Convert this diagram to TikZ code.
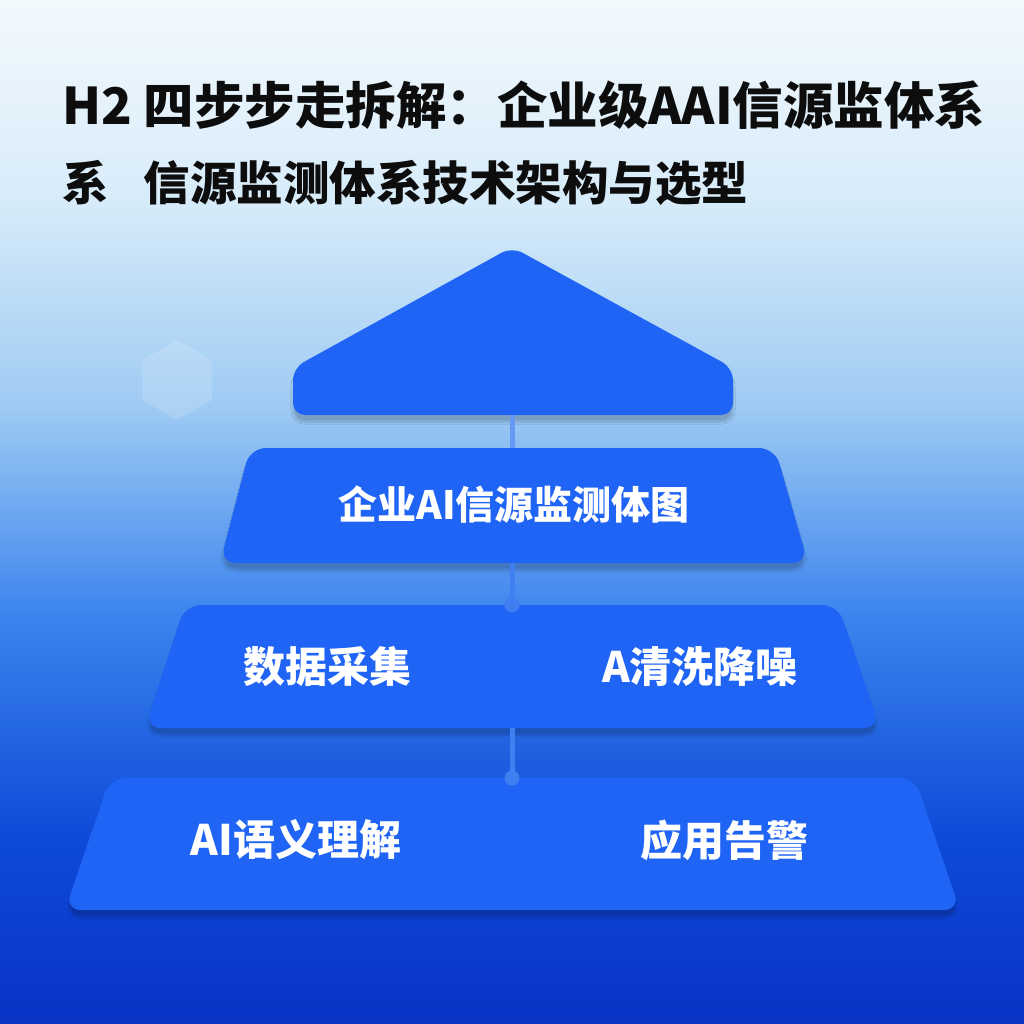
\documentclass[tikz,border=0pt]{standalone}
\usepackage{fontspec}
\setmainfont{Noto Sans CJK SC}
\usepackage{tikz}
\usetikzlibrary{shapes.geometric, shadows.blur}
\definecolor{blockblue}{HTML}{1F64F5}
\definecolor{stemblue}{HTML}{3F7FF0}
\definecolor{bgA}{HTML}{0A33C4}
\definecolor{bgB}{HTML}{0D4AD8}
\definecolor{bgC}{HTML}{3C84EE}
\definecolor{bgD}{HTML}{9DCAF3}
\definecolor{bgE}{HTML}{D6EBF9}
\definecolor{bgF}{HTML}{F3F9FD}
\pgfdeclareverticalshading{backdrop}{100bp}{color(0bp)=(bgA); color(25bp)=(bgA); color(34bp)=(bgB); color(45bp)=(bgC); color(55bp)=(bgD); color(65bp)=(bgE); color(75bp)=(bgF); color(100bp)=(bgF)}
\tikzstyle{layer} = [fill=blockblue, rounded corners=16pt, blur shadow={shadow xshift=0pt, shadow yshift=-7pt, shadow blur steps=12, shadow opacity=20}]
\tikzstyle{layertext} = [text=white, font=\bfseries\fontsize{42}{48}\selectfont]
\tikzstyle{titletext} = [anchor=west, inner sep=0pt, text=black!95]
\tikzstyle{stem} = [draw=stemblue, line width=5pt]
\tikzstyle{joint} = [circle, fill=stemblue, minimum size=15pt, inner sep=0pt]

\begin{document}
\begin{tikzpicture}[x=1pt, y=-1pt]

    % Backdrop
    \useasboundingbox (0,0) rectangle (1024,1024);
    \shade[shading=backdrop] (0,0) rectangle (1024,1024);
    \node (hexglow) [regular polygon, regular polygon sides=6, shape border rotate=30, minimum size=80pt, fill=white, opacity=0.15] at (177,380) {};

    % Title
    \node (title1) [titletext, font=\bfseries\fontsize{50.5}{56}\selectfont] at (62,105) {H2 四步步走拆解：企业级AAI信源监体系};
    \node (title2) [titletext, font=\bfseries\fontsize{46.5}{54}\selectfont] at (62,183) {系\hspace{0.75em}信源监测体系技术架构与选型};

    % Roof
    \fill[layer, rounded corners=12pt] (293,415) -- (293,368) -- (512,247) -- (733,368) -- (733,415) -- cycle;
    \coordinate (roof) at (512,415);

    % Layers
    \fill[layer] (220,563) -- (250,448) -- (775,448) -- (808,563) -- cycle;
    \fill[layer] (145,728) -- (185,605) -- (838,605) -- (880,728) -- cycle;
    \fill[layer] (65,910) -- (110,778) -- (915,778) -- (960,910) -- cycle;
    \coordinate (layer2top) at (512,448);
    \coordinate (layer2bot) at (512,563);
    \coordinate (layer3top) at (512,605);
    \coordinate (layer3bot) at (512,728);
    \coordinate (layer4top) at (512,778);

    % Labels
    \node (monitor) [layertext, font=\bfseries\fontsize{39}{46}\selectfont] at (514,505) {企业AI信源监测体图};
    \node (collect) [layertext] at (327,667) {数据采集};
    \node (clean) [layertext] at (700,667) {A清洗降噪};
    \node (semantic) [layertext] at (296,840) {AI语义理解};
    \node (alert) [layertext] at (724,840) {应用告警};

    % Stems
    \draw [stem, draw=stemblue!80!white] (roof) -- (layer2top);
    \draw [stem] (layer2bot) -- (layer3top);
    \draw [stem] (layer3bot) -- (layer4top);
    \node (joint3) [joint] at (layer3top) {};
    \node (joint4) [joint] at (layer4top) {};

\end{tikzpicture}
\end{document}
